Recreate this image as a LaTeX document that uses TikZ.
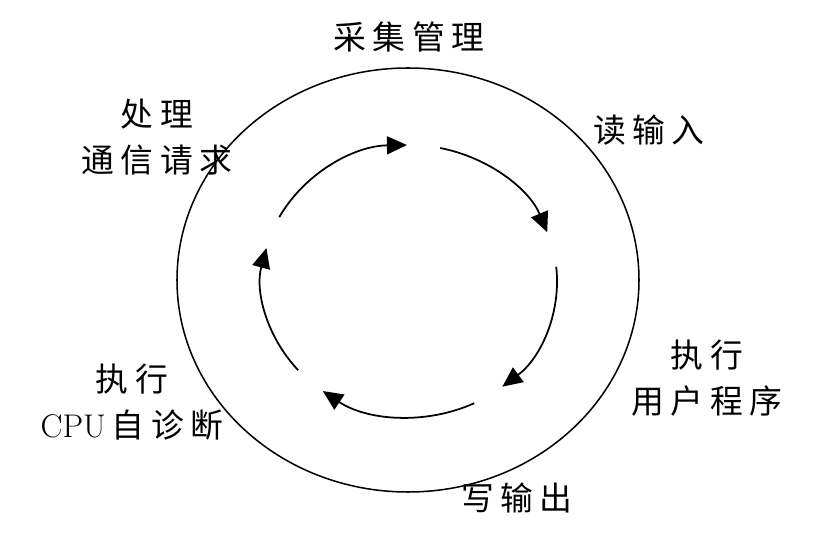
\documentclass[tikz,border=0pt]{standalone}
\usepackage{fontspec}
\newfontfamily\cjk[LetterSpace=20]{Noto Sans CJK SC}
\usetikzlibrary{arrows.meta}

\begin{document}
\begin{tikzpicture}[x=0.3mm, y=0.3mm, >={Triangle[length=6mm,width=5.4mm]},
every node/.style={align=center, font=\cjk\fontsize{28}{39}\selectfont}]
\useasboundingbox (0,0) rectangle (820,541);

\draw[line width=1.3pt] (408,261) ellipse [x radius=69.3mm, y radius=63.6mm];

\foreach \s/\e in {152/91, 78/21, 6/-51, -64/-126, 221/166}
  \draw[->, line width=1.5pt] ({409.5+147.5*cos(\s)},{260+136*sin(\s)})
    arc[start angle=\s, end angle=\e, x radius=44.25mm, y radius=40.8mm];

\node (collect) at (409,504) {采集管理};
\node (readin) at (649,411) {读输入};
\node (execuser) at (707,163) {执行\\用户程序};
\node (writeout) at (517,43) {写输出};
\node (selfdiag) at (132,139) {执行\\{\rmfamily CPU}\hspace{5pt}自诊断};
\node (process) at (157,404) {处理\\通信请求};

\end{tikzpicture}
\end{document}
